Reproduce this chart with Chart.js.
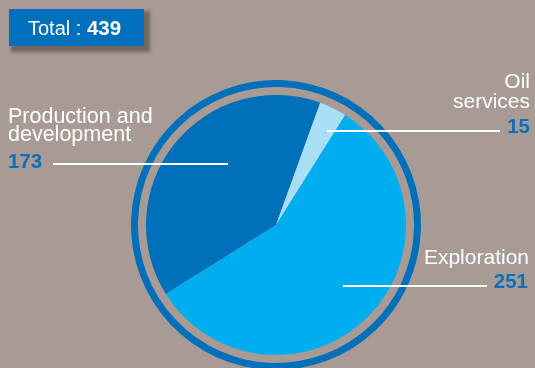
<!DOCTYPE html>
<html>
<head>
<meta charset="utf-8">
<script src="https://cdn.jsdelivr.net/npm/chart.js@4/dist/chart.umd.min.js"></script>
<style>
  html, body { margin: 0; padding: 0; overflow: hidden; background: #a89b96; }
  #wrap { position: relative; width: 535px; height: 372px; font-family: "Liberation Sans", Arial, sans-serif; }
  #chart { position: absolute; left: 0; top: 0; }
  .total {
    position: absolute; left: 9px; top: 9px; width: 116px; height: 37px;
    padding-left: 19px; background: #0070bd; color: #fff;
    font-size: 20px; line-height: 37px; box-shadow: 4px 4px 3px 2px rgba(95, 85, 80, 0.75);
  }
  .total b { font-weight: bold; font-size: 20.5px; }
  .lbl { position: absolute; color: #fff; font-size: 21.5px; line-height: 17.5px; white-space: pre-line; }
  .num { position: absolute; color: #0b6fba; font-size: 20.5px; font-weight: bold; line-height: 20px; }
</style>
</head>
<body>
<div id="wrap">
  <canvas id="chart" width="535" height="372"></canvas>
</div>
<script>
const categories = ["Production and\ndevelopment", "Oil\nservices", "Exploration"];
const values = [173, 15, 251];
const colors = ["#0070ba", "#a8def6", "#00adee"];

// where each label sits and where its leader line runs
const labelLayout = [
  { left: 8, top: 108, lh: 17.5, size: 21.5, numTop: 151, line: [53, 228, 164] },
  { right: 5, top: 70.7, lh: 20, size: 21, numTop: 116, line: [327, 500, 131] },
  { right: 6, top: 246.7, lh: 20, size: 21, numTop: 271, numRight: 7, line: [343, 487, 286] },
];

const wrap = document.getElementById("wrap");
const total = values.reduce((a, b) => a + b, 0);

const totalBox = document.createElement("div");
totalBox.className = "total";
totalBox.innerHTML = `Total : <b>${total}</b>`;
wrap.appendChild(totalBox);

categories.forEach((name, i) => {
  const l = labelLayout[i];
  const lbl = document.createElement("div");
  lbl.className = "lbl";
  lbl.textContent = name;
  lbl.style.top = l.top + "px";
  lbl.style.lineHeight = l.lh + "px";
  lbl.style.fontSize = l.size + "px";
  const num = document.createElement("div");
  num.className = "num";
  num.textContent = values[i];
  num.style.top = l.numTop + "px";
  if (l.left !== undefined) {
    lbl.style.left = l.left + "px";
    num.style.left = l.left + "px";
  } else {
    lbl.style.right = l.right + "px";
    lbl.style.textAlign = "right";
    num.style.right = (l.numRight || l.right) + "px";
  }
  wrap.appendChild(lbl);
  wrap.appendChild(num);
});

const leaderLines = {
  id: "leaderLines",
  afterDraw(chart) {
    const c = chart.ctx;
    c.save();
    c.strokeStyle = "#ffffff";
    c.lineWidth = 2;
    labelLayout.forEach((l) => {
      const [x1, x2, y] = l.line;
      c.beginPath();
      c.moveTo(x1, y);
      c.lineTo(x2, y);
      c.stroke();
    });
    c.restore();
  },
};

new Chart(document.getElementById("chart"), {
  type: "pie",
  data: {
    labels: categories,
    datasets: [
      { data: [1], backgroundColor: ["#0070ba"], borderWidth: 0, weight: 7 },
      { data: [1], backgroundColor: ["rgba(0,0,0,0)"], borderWidth: 0, weight: 8 },
      { data: values, backgroundColor: colors, borderWidth: 0, weight: 130 },
    ],
  },
  options: {
    responsive: false,
    animation: false,
    events: [],
    rotation: -122,
    layout: { padding: { left: 131, right: 114, top: 80, bottom: 2 } },
    plugins: {
      legend: { display: false },
      tooltip: { enabled: false },
    },
  },
  plugins: [leaderLines],
});
</script>
</body>
</html>
